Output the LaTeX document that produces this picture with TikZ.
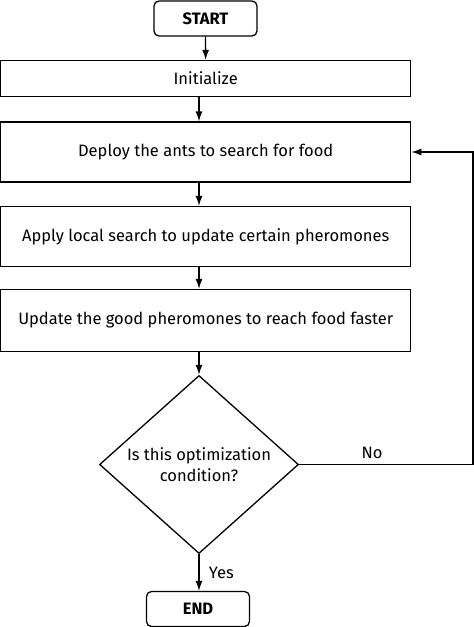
\documentclass[tikz,border=0pt]{standalone}
\usepackage{fontspec}
\setmainfont{Fira Sans}
\usepackage{tikz}
\usetikzlibrary{shapes.geometric, arrows.meta, positioning}
\tikzset{
    startstop/.style = {rectangle, rounded corners=5pt, minimum width=103pt, minimum height=35pt, text centered, draw=black, line width=1.3pt, font=\fontsize{16.5}{19}\selectfont\bfseries},
    process/.style = {rectangle, minimum width=410pt, text centered, draw=black, line width=1.3pt, font=\fontsize{16.5}{19}\selectfont},
    decision/.style = {diamond, draw=black, line width=1.3pt, inner sep=0pt, minimum width=199pt, minimum height=178pt, align=center, font=\fontsize{16.5}{21}\selectfont},
    arrow/.style = {line width=1.3pt, -{Latex[length=10pt,width=7pt]}},
    tag/.style = {font=\fontsize{16.5}{19}\selectfont}
}

\begin{document}
\begin{tikzpicture}[x=1pt, y=-1pt]

    \useasboundingbox (0,0) rectangle (474,627);

    \node (start) [startstop] at (205.5,18.5) {START};
    \node (init) [process, minimum height=36pt] at (205.7,78.5) {Initialize};
    \node (deploy) [process, minimum height=60pt] at (205.7,152) {Deploy the ants to search for food};
    \node (local) [process, minimum height=60pt] at (205.7,236.5) {Apply local search to update certain pheromones};
    \node (good) [process, minimum height=62pt] at (205.7,320.5) {Update the good pheromones to reach food faster};
    \node (dec) [decision] at (199,464.5) {Is this optimization\\condition?};
    \node (stop) [startstop] at (198,609) {END};
    \coordinate (corner) at (473,464.5);

    \draw[arrow] (start) -- (init);
    \draw[arrow] (init.south -| dec.north) -- (deploy.north -| dec.north);
    \draw[arrow] (deploy.south -| dec.north) -- (local.north -| dec.north);
    \draw[arrow] (local.south -| dec.north) -- (good.north -| dec.north);
    \draw[arrow] (good.south -| dec.north) -- (dec.north);
    \draw[arrow] (dec.south) -- node[tag, right=6pt] {Yes} (stop.north -| dec.south);
    \draw[arrow] (dec.east) -- node[tag, above=2pt, pos=0.42] {No} (corner) |- (deploy.east);

\end{tikzpicture}
\end{document}
